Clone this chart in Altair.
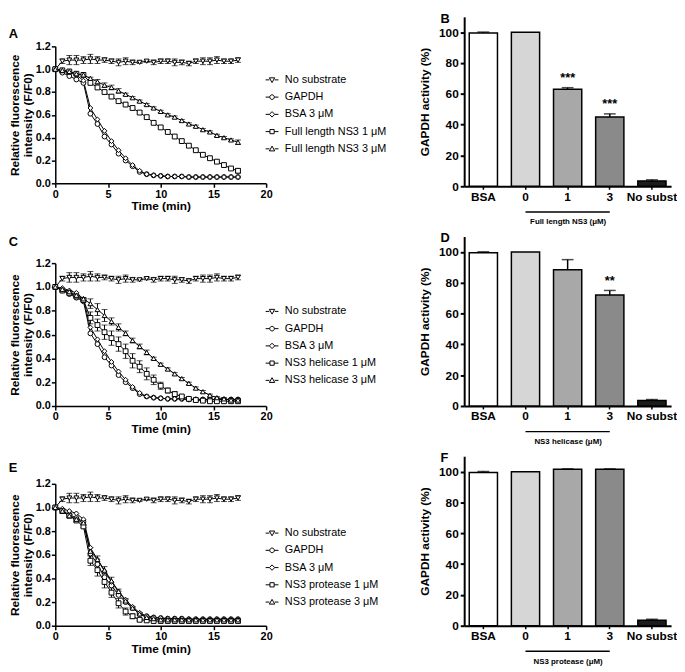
import altair as alt
import pandas as pd

FONT = "Liberation Sans"

# ---------------- data ----------------
time_min = [0, 0.67, 1.33, 2, 2.67, 3.33, 4, 4.67, 5.33, 6, 6.67, 7.33, 8, 8.67,
            9.33, 10, 10.67, 11.33, 12, 12.67, 13.33, 14, 14.67, 15.33, 16, 16.67, 17.33]

no_sub = [1.00, 1.07, 1.08, 1.08, 1.08, 1.09, 1.08, 1.08, 1.07, 1.06, 1.07, 1.06, 1.06, 1.07,
          1.06, 1.07, 1.07, 1.06, 1.06, 1.05, 1.07, 1.07, 1.07, 1.08, 1.07, 1.07, 1.08]
no_sub_err = [0, 0.02, 0.04, 0.04, 0.03, 0.04, 0.03, 0.02, 0.02, 0.03, 0.03, 0.02, 0.01, 0.01,
              0.02, 0.02, 0.02, 0.03, 0.02, 0.02, 0.02, 0.03, 0.03, 0.03, 0.02, 0.02, 0.02]
gapdh = [1.00, 0.97, 0.94, 0.91, 0.88, 0.61, 0.52, 0.41, 0.34, 0.26, 0.20, 0.15, 0.10, 0.08,
         0.07, 0.065, 0.06, 0.06, 0.06, 0.055, 0.055, 0.055, 0.055, 0.055, 0.055, 0.055, 0.055]
bsa = [1.00, 0.99, 0.97, 0.95, 0.90, 0.66, 0.56, 0.46, 0.37, 0.29, 0.22, 0.16, 0.11, 0.08,
       0.07, 0.065, 0.06, 0.06, 0.06, 0.055, 0.055, 0.055, 0.055, 0.055, 0.055, 0.055, 0.055]
zero_err = [0] * 27

fl1 = [1.00, 0.99, 0.98, 0.96, 0.95, 0.88, 0.84, 0.80, 0.76, 0.72, 0.69, 0.66, 0.62, 0.58,
       0.53, 0.49, 0.45, 0.41, 0.37, 0.33, 0.29, 0.25, 0.22, 0.19, 0.16, 0.13, 0.11]
fl1_err = [0, 0, 0, 0, 0, 0, 0, 0, 0, 0, 0, 0, 0, 0, 0, 0, 0, 0, 0, 0, 0, 0, 0, 0, 0, 0, 0.02]
fl3 = [1.00, 0.99, 0.98, 0.96, 0.95, 0.92, 0.89, 0.86, 0.84, 0.81, 0.78, 0.75, 0.72, 0.69,
       0.66, 0.63, 0.60, 0.58, 0.55, 0.52, 0.50, 0.47, 0.45, 0.42, 0.40, 0.38, 0.36]
fl3_err = [0, 0, 0, 0, 0, 0.01, 0.02, 0.02, 0.02, 0.02, 0.01, 0.01, 0.01, 0.01,
           0.01, 0.01, 0.01, 0.01, 0.01, 0.01, 0.01, 0.01, 0.01, 0.01, 0.01, 0.01, 0.02]

hel1 = [1.00, 0.97, 0.95, 0.92, 0.89, 0.74, 0.68, 0.62, 0.57, 0.52, 0.46, 0.38, 0.33, 0.27,
        0.22, 0.17, 0.13, 0.10, 0.08, 0.06, 0.05, 0.045, 0.04, 0.04, 0.04, 0.04, 0.04]
hel1_err = [0, 0, 0, 0, 0.01, 0.05, 0.05, 0.06, 0.06, 0.06, 0.06, 0.06, 0.05, 0.05,
            0.04, 0.03, 0.02, 0.02, 0.01, 0.01, 0.01, 0, 0, 0, 0, 0, 0]
hel3 = [1.00, 0.98, 0.96, 0.93, 0.90, 0.86, 0.81, 0.76, 0.71, 0.66, 0.61, 0.55, 0.50, 0.45,
        0.40, 0.35, 0.31, 0.27, 0.23, 0.19, 0.15, 0.12, 0.09, 0.07, 0.06, 0.05, 0.05]
hel3_err = [0, 0, 0, 0, 0.01, 0.04, 0.05, 0.05, 0.03, 0.03, 0.02, 0.02, 0.02, 0.02,
            0.01, 0.01, 0.01, 0.01, 0.01, 0.01, 0.01, 0.01, 0.01, 0.01, 0.01, 0.01, 0.01]

prot1 = [1.00, 0.97, 0.93, 0.89, 0.84, 0.55, 0.47, 0.37, 0.28, 0.19, 0.12, 0.08, 0.05, 0.045,
         0.04, 0.04, 0.04, 0.04, 0.04, 0.04, 0.04, 0.04, 0.04, 0.04, 0.04, 0.04, 0.04]
prot1_err = [0, 0, 0.01, 0.01, 0.01, 0.04, 0.05, 0.05, 0.04, 0.04, 0.03, 0.02, 0.01, 0,
             0, 0, 0, 0, 0, 0, 0, 0, 0, 0, 0, 0, 0]
prot3 = [1.00, 0.97, 0.93, 0.90, 0.87, 0.63, 0.56, 0.47, 0.38, 0.29, 0.21, 0.15, 0.10, 0.07,
         0.06, 0.05, 0.05, 0.05, 0.05, 0.05, 0.05, 0.05, 0.05, 0.05, 0.05, 0.05, 0.05]
prot3_err = [0, 0, 0, 0, 0, 0.03, 0.03, 0.03, 0.03, 0.02, 0.02, 0.01, 0.01, 0,
             0, 0, 0, 0, 0, 0, 0, 0, 0, 0, 0, 0, 0]

names_A = ["No substrate", "GAPDH", "BSA 3 μM", "Full length NS3 1 μM", "Full length NS3 3 μM"]
names_C = ["No substrate", "GAPDH", "BSA 3 μM", "NS3 helicase 1 μM", "NS3 helicase 3 μM"]
names_E = ["No substrate", "GAPDH", "BSA 3 μM", "NS3 protease 1 μM", "NS3 protease 3 μM"]

bar_cats = ["BSA", "0", "1", "3", "No subst"]
bar_B = [99.5, 100, 63, 45, 3.5]
bar_B_err = [0.6, 0, 1.0, 2.0, 0.7]
bar_B_stars = ["", "", "***", "***", ""]
bar_D = [99.5, 100, 88.5, 72, 3.5]
bar_D_err = [0.6, 0, 6.5, 3.0, 0.7]
bar_D_stars = ["", "", "", "**", ""]
bar_F = [99.5, 100, 101.5, 101.5, 3.5]
bar_F_err = [0.6, 0, 0.3, 0.3, 0.7]
bar_F_stars = ["", "", "", "", ""]

# ---------------- styles / layout ----------------
H = 172            # shared panel height
LW = 214           # line panel width
BW = 210           # bar panel width
BOT = 3            # gap below the line data region
point_shapes = ["triangle-down", "circle", "diamond", "square", "triangle-up"]
legend_paths = [
    "M-1,0H-0.42M0.42,0H1M-0.42,-0.32L0.42,-0.32L0,0.42Z",
    "M-1,0H-0.36M0.36,0H1M0.36,0A0.36,0.36,0,1,1,-0.36,0A0.36,0.36,0,1,1,0.36,0Z",
    "M-1,0H-0.42M0.42,0H1M0,-0.42L0.42,0L0,0.42L-0.42,0Z",
    "M-1,0H-0.33M0.33,0H1M-0.33,-0.33H0.33V0.33H-0.33Z",
    "M-1,0H-0.42M0.42,0H1M0,-0.42L0.42,0.32L-0.42,0.32Z",
]
bar_colors = ["#ffffff", "#d6d6d6", "#a8a8a8", "#8a8a8a", "#1c1c1c"]


def line_panel(letter, names, series, errors, top_gap, legend_y, title_off):
    rows = []
    for name, vals, errs in zip(names, series, errors):
        for t, v, e in zip(time_min, vals, errs):
            rows.append({"series": name, "t": t, "v": v, "e": e, "lo": v - e, "hi": v + e})
    df = pd.DataFrame(rows)

    xaxis = alt.Axis(values=[0, 5, 10, 15, 20], title="Time (min)", labelFontSize=11,
                     labelFontWeight="bold", titleFontSize=12, titleFontWeight="bold",
                     tickSize=4, tickWidth=1.5, domainWidth=1.5, labelPadding=1,
                     titlePadding=2, labelFlush=False, offset=-BOT)
    yaxis = alt.Axis(values=[0, 0.2, 0.4, 0.6, 0.8, 1.0, 1.2], format=".1f",
                     title=["Relative fluorescence", "intensity (F/F0)"],
                     labelFontSize=11, labelFontWeight="bold", titleFontSize=12,
                     titleFontWeight="bold", titleLineHeight=13, tickSize=4, tickWidth=1.5,
                     domainWidth=1.5, labelPadding=1, titlePadding=1, labelFlush=False)

    def X():
        return alt.X("t:Q", scale=alt.Scale(domain=[0, 20], nice=False), axis=xaxis)

    def Y(f):
        return alt.Y(f + ":Q", scale=alt.Scale(domain=[0, 1.2], nice=False, range=[H - BOT, top_gap]),
                     axis=yaxis)

    base = alt.Chart(df)
    witherr = base.transform_filter("datum.e > 0")
    err = witherr.mark_rule(color="black", strokeWidth=1).encode(x=X(), y=Y("lo"), y2="hi:Q")
    cap_hi = witherr.mark_tick(orient="horizontal", size=6, thickness=1, color="black").encode(x=X(), y=Y("hi"))
    cap_lo = witherr.mark_tick(orient="horizontal", size=6, thickness=1, color="black").encode(x=X(), y=Y("lo"))
    lines = base.mark_line(color="black", strokeWidth=1).encode(x=X(), y=Y("v"), detail="series:N", order="t:Q")
    pts = base.mark_point(filled=True, fill="white", stroke="black", strokeWidth=1, size=24, opacity=1).encode(
        x=X(), y=Y("v"),
        shape=alt.Shape("series:N", scale=alt.Scale(domain=names, range=point_shapes), legend=None))
    leg = base.mark_point(opacity=0).encode(
        x=X(), y=Y("v"),
        shape=alt.Shape("series:N", scale=alt.Scale(domain=names, range=legend_paths),
                        legend=alt.Legend(title=None, orient="none", legendX=LW - 1, legendY=legend_y,
                                          symbolSize=169, symbolStrokeWidth=1,
                                          symbolStrokeColor="black", symbolFillColor="white",
                                          symbolOpacity=1, labelFont=FONT, labelFontSize=11,
                                          labelColor="black", rowPadding=5.5, labelOffset=6,
                                          labelLimit=0)))
    return alt.layer(err, cap_hi, cap_lo, lines, pts, leg).resolve_scale(shape="independent").properties(
        width=LW, height=H,
        title=alt.TitleParams(text=letter, anchor="start", fontSize=13, fontWeight="bold",
                              offset=title_off))


def bar_panel(letter, vals, errs, stars, group_label):
    df = pd.DataFrame({"cat": bar_cats, "v": vals, "e": errs,
                       "hi": [v + e for v, e in zip(vals, errs)], "star": stars})
    xaxis = alt.Axis(title=group_label, labelAngle=0, labelFontSize=12, labelFontWeight="bold",
                     tickSize=3, tickWidth=1.5, domainWidth=2, labelPadding=2,
                     titleFontSize=8, titleFontWeight="bold", titlePadding=16)
    yaxis = alt.Axis(values=[0, 20, 40, 60, 80, 100], title="GAPDH activity (%)",
                     labelFontSize=12, labelFontWeight="bold", titleFontSize=12,
                     titleFontWeight="bold", tickSize=4, tickWidth=2, domainWidth=2,
                     labelPadding=2, titlePadding=7)

    def X():
        return alt.X("cat:N", sort=bar_cats,
                     scale=alt.Scale(domain=bar_cats, paddingInner=0.33, paddingOuter=0.12),
                     axis=xaxis)

    def Y(f):
        return alt.Y(f + ":Q", scale=alt.Scale(domain=[0, 110], nice=False), axis=yaxis)

    bars = alt.Chart().mark_bar(stroke="black", strokeWidth=1.5).encode(
        x=X(), y=Y("v"),
        color=alt.Color("cat:N", scale=alt.Scale(domain=bar_cats, range=bar_colors), legend=None))
    witherr = alt.Chart().transform_filter("datum.e > 0")
    err = witherr.mark_rule(color="black", strokeWidth=1.5).encode(x=X(), y=Y("v"), y2="hi:Q")
    cap = witherr.mark_tick(orient="horizontal", size=12, thickness=1.5, color="black").encode(x=X(), y=Y("hi"))
    txt = alt.Chart().transform_filter("datum.star != ''").mark_text(
        font=FONT, fontSize=13, fontWeight="bold", baseline="bottom", dy=-3,
        color="black").encode(x=X(), y=Y("hi"), text="star:N")
    underline = alt.Chart().transform_filter("datum.cat == '0'").mark_rule(
        color="black", strokeWidth=1.5).encode(
        x=alt.XDatum("0", type="nominal"), x2=alt.X2Datum("3"), y=alt.value(H + 26))
    return alt.layer(bars, err, cap, txt, underline, data=df).properties(
        width=BW, height=H,
        title=alt.TitleParams(text=letter, anchor="start", frame="group", dx=-24, offset=-9,
                              fontSize=13, fontWeight="bold"))


A = line_panel("A", names_A, [no_sub, gapdh, bsa, fl1, fl3],
               [no_sub_err, zero_err, zero_err, fl1_err, fl3_err], 30, 57, -25)
C = line_panel("C", names_C, [no_sub, gapdh, bsa, hel1, hel3],
               [no_sub_err, zero_err, zero_err, hel1_err, hel3_err], 24, 66, -10)
E = line_panel("E", names_E, [no_sub, gapdh, bsa, prot1, prot3],
               [no_sub_err, zero_err, zero_err, prot1_err, prot3_err], 25, 68, -16)
B = bar_panel("B", bar_B, bar_B_err, bar_B_stars, "Full length NS3 (μM)")
D = bar_panel("D", bar_D, bar_D_err, bar_D_stars, "NS3 helicase (μM)")
F = bar_panel("F", bar_F, bar_F_err, bar_F_stars, "NS3 protease (μM)")

left = alt.vconcat(A, C, E, spacing=25)
right = alt.vconcat(B, D, F, spacing=7)
chart = alt.hconcat(left, right, spacing=32).properties(padding=0).configure_view(stroke=None).configure_axis(
    labelFont=FONT, titleFont=FONT, labelColor="black", titleColor="black", domainColor="black",
    tickColor="black", grid=False).configure_title(font=FONT, color="black")

chart.save("out.html", embed_options={"renderer": "svg", "actions": False})
